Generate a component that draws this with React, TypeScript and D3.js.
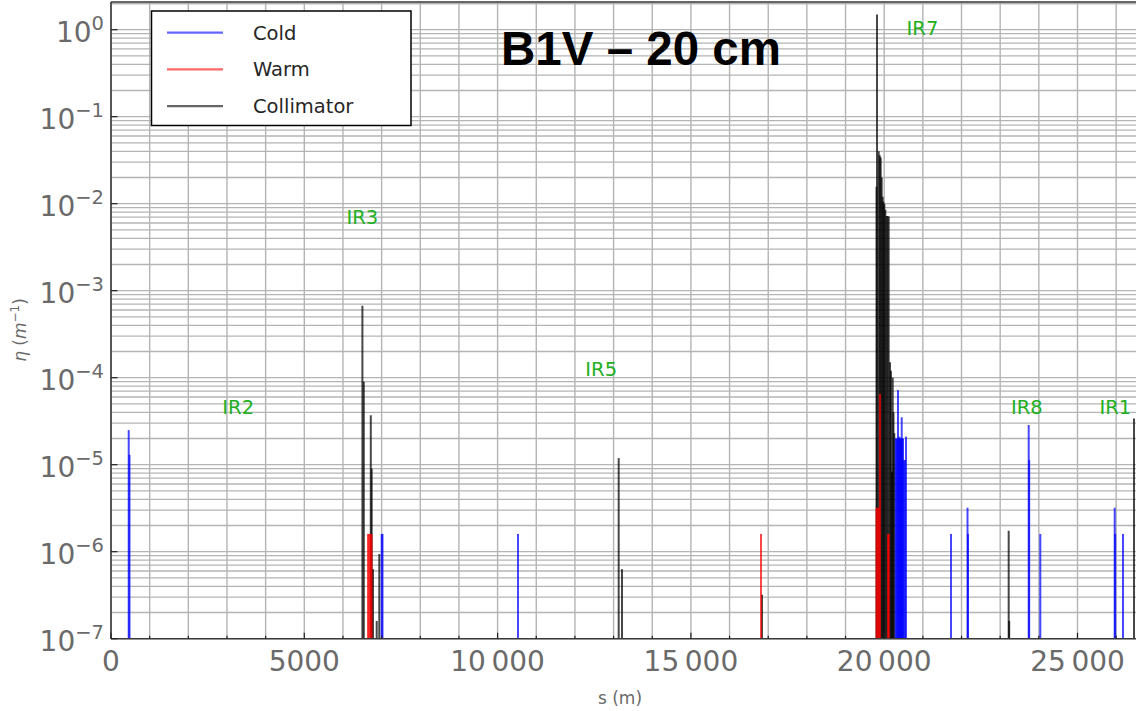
import React from "react";
import * as d3 from "d3";

// ---------- data ----------
const coldS = [458, 478, 7002, 7023, 10528, 20300, 20318, 20344, 20357, 20375, 20391, 20410, 20422, 20440, 20453, 20470, 20486, 20505, 20538, 20564, 21728, 22155, 22168, 23738, 23750, 24038, 25962, 25975, 26177];
const coldEta = [2.5e-5, 1.3e-5, 1.6e-6, 1.6e-6, 1.6e-6, 2.0e-5, 2.0e-5, 2.0e-5, 7.2e-5, 2.0e-5, 2.1e-5, 2.0e-5, 2.0e-5, 2.0e-5, 3.5e-5, 2.0e-5, 2.0e-5, 1.13e-5, 1.13e-5, 2.1e-5, 1.6e-6, 3.2e-6, 1.6e-6, 2.86e-5, 1.13e-5, 1.6e-6, 3.2e-6, 1.6e-6, 1.6e-6];

const warmS = [6648, 6680, 6712, 6740, 16813, 19801, 19827, 19858, 19891, 20100, 20118];
const warmEta = [1.6e-6, 1.6e-6, 1.6e-6, 1.6e-6, 1.6e-6, 3.2e-6, 3.2e-6, 3.2e-6, 6.5e-5, 1.6e-6, 1.6e-6];

const collS = [6503, 6539, 6720, 6743, 6777, 6873, 6940, 13132, 13218, 16839, 19801, 19814, 19858, 19885, 19909, 19935, 19960, 19980, 20003, 20030, 20060, 20085, 20116, 20150, 20175, 20202, 20220, 20240, 20261, 23220, 23233, 26461];
const collEta = [6.7e-4, 9e-5, 3.7e-5, 9e-6, 6.3e-7, 1.6e-7, 9.4e-7, 1.19e-5, 6.3e-7, 3.2e-7, 0.0157, 1.49, 0.04, 0.036, 0.034, 0.02, 0.012, 0.0105, 0.0099, 0.0085, 0.0072, 0.0072, 0.0071, 1.5e-4, 1.2e-4, 8.3e-6, 1.0e-4, 4.0e-5, 2.3e-5, 1.74e-6, 1.6e-7, 3.4e-5];

const xTicks = [0, 5000, 10000, 15000, 20000, 25000];
const xTickLabels = ["0", "5000", "10\u2009000", "15\u2009000", "20\u2009000", "25\u2009000"];
const yExponents = [0, -1, -2, -3, -4, -5, -6, -7];

const irNames = ["IR2", "IR3", "IR5", "IR7", "IR8", "IR1"];
const irS = [3290, 6500, 12680, 20990, 23690, 25980];
const irEta = [3.8e-5, 5.8e-3, 1.05e-4, 0.86, 3.8e-5, 3.8e-5];

const legendNames = ["Cold", "Warm", "Collimator"];
const legendColors = ["#0000ff", "#ff0000", "#000000"];

// ---------- layout ----------
const W = 1136;
const H = 711;
const PX_PER_M = 0.03866;
const X0 = 111;
const Y_BOTTOM = 638.7;
const Y_TOP = 2;

export default function App() {
  const x = d3.scaleLinear().domain([0, 26659]).range([X0, X0 + 26659 * PX_PER_M]);
  const y = d3.scaleLog().domain([1e-7, 2.08]).range([Y_BOTTOM, Y_TOP]);
  const xRight = x(26659);

  const minorX = d3.range(0, 27000, 1000);
  const yGrid: number[] = [];
  for (let e = -7; e <= 0; e++) {
    for (let m = 1; m <= 9; m++) {
      const v = m * Math.pow(10, e);
      if (v <= 2.08) yGrid.push(v);
    }
  }
  yGrid.push(2);

  const gridColor = "#b4b4b4";
  const tickText = "#6a6a6a";
  const font = "DejaVu Sans, sans-serif";

  const bars = (S: number[], E: number[], color: string, key: string) =>
    S.map((s, i) => (
      <line
        key={key + i}
        x1={x(s)}
        x2={x(s)}
        y1={Y_BOTTOM}
        y2={y(E[i])}
        stroke={color}
        strokeWidth={2}
        strokeOpacity={0.72}
      />
    ));

  return (
    <svg
      width={W}
      height={H}
      style={{ position: "absolute", left: 0, top: 0, background: "#fff" }}
    >
      <rect x={0} y={0} width={W} height={H} fill="#fff" />
      {/* grid */}
      {minorX.map((v) => (
        <line key={"gx" + v} x1={x(v)} x2={x(v)} y1={Y_TOP} y2={Y_BOTTOM} stroke={gridColor} strokeWidth={1.4} />
      ))}
      {yGrid.map((v, i) => (
        <line key={"gy" + i} x1={X0} x2={xRight} y1={y(v)} y2={y(v)} stroke={gridColor} strokeWidth={1.3} />
      ))}

      {/* data */}
      {bars(collS, collEta, "#000000", "c")}
      {bars(warmS, warmEta, "#ff0000", "w")}
      {bars(coldS, coldEta, "#0000ff", "b")}

      {/* spines */}
      <line x1={X0} x2={X0} y1={Y_TOP} y2={Y_BOTTOM} stroke="#3a3a3a" strokeWidth={1.6} />
      <line x1={X0} x2={xRight} y1={Y_BOTTOM} y2={Y_BOTTOM} stroke="#3a3a3a" strokeWidth={1.6} />
      <line x1={X0} x2={xRight} y1={Y_TOP} y2={Y_TOP} stroke="#3a3a3a" strokeWidth={1.6} />

      {/* x ticks */}
      {minorX.map((v) => (
        <line key={"tx" + v} x1={x(v)} x2={x(v)} y1={Y_BOTTOM} y2={Y_BOTTOM - (v % 5000 === 0 ? 6 : 3)} stroke="#222" strokeWidth={1.2} />
      ))}
      {xTicks.map((v, i) => (
        <text key={"xl" + v} x={x(v)} y={671} textAnchor="middle" fontFamily={font} fontSize={28} fill={tickText}>
          {xTickLabels[i]}
        </text>
      ))}

      {/* y ticks */}
      {yExponents.map((e) => {
        const yy = y(Math.pow(10, e));
        return (
          <g key={"yl" + e}>
            <line x1={X0} x2={X0 + 6.5} y1={yy} y2={yy} stroke="#222" strokeWidth={1.2} />
            <text x={104} y={yy + 12} textAnchor="end" fontFamily={font} fontSize={28} fill={tickText}>
              <tspan>10</tspan>
              <tspan dy={-12} fontSize={19.5}>{e === 0 ? "0" : "\u2212" + Math.abs(e)}</tspan>
            </text>
          </g>
        );
      })}

      {/* axis labels */}
      <text x={620} y={704} textAnchor="middle" fontFamily={font} fontSize={17} fill={tickText}>
        s (m)
      </text>
      <text
        transform={`translate(26,330) rotate(-90)`}
        textAnchor="middle"
        fontFamily={font}
        fontSize={17}
        fill={tickText}
      >
        <tspan fontStyle="italic">η</tspan>
        <tspan> (</tspan>
        <tspan fontStyle="italic">m</tspan>
        <tspan dy={-7} fontSize={12}>−1</tspan>
        <tspan dy={7}>)</tspan>
      </text>

      {/* IR labels */}
      {irNames.map((n, i) => (
        <text key={n} x={x(irS[i])} y={y(irEta[i])} textAnchor="middle" fontFamily={font} fontSize={19.5} fill="#22b022">
          {n}
        </text>
      ))}

      {/* legend */}
      <rect x={151.5} y={11} width={259.5} height={114.5} fill="#fff" stroke="#000" strokeWidth={1.5} />
      {legendNames.map((n, i) => {
        const ly = 32.7 + i * 36.7;
        return (
          <g key={n}>
            <line x1={167} x2={223} y1={ly} y2={ly} stroke={legendColors[i]} strokeOpacity={0.6} strokeWidth={2.2} />
            <text x={253} y={ly + 7} fontFamily={font} fontSize={19.5} fill="#262626">
              {n}
            </text>
          </g>
        );
      })}

      {/* title */}
      <text x={641} y={65} textAnchor="middle" fontFamily="Liberation Sans, Arial, sans-serif" fontWeight="bold" fontSize={47.5} fill="#000">
        B1V – 20 cm
      </text>
    </svg>
  );
}
